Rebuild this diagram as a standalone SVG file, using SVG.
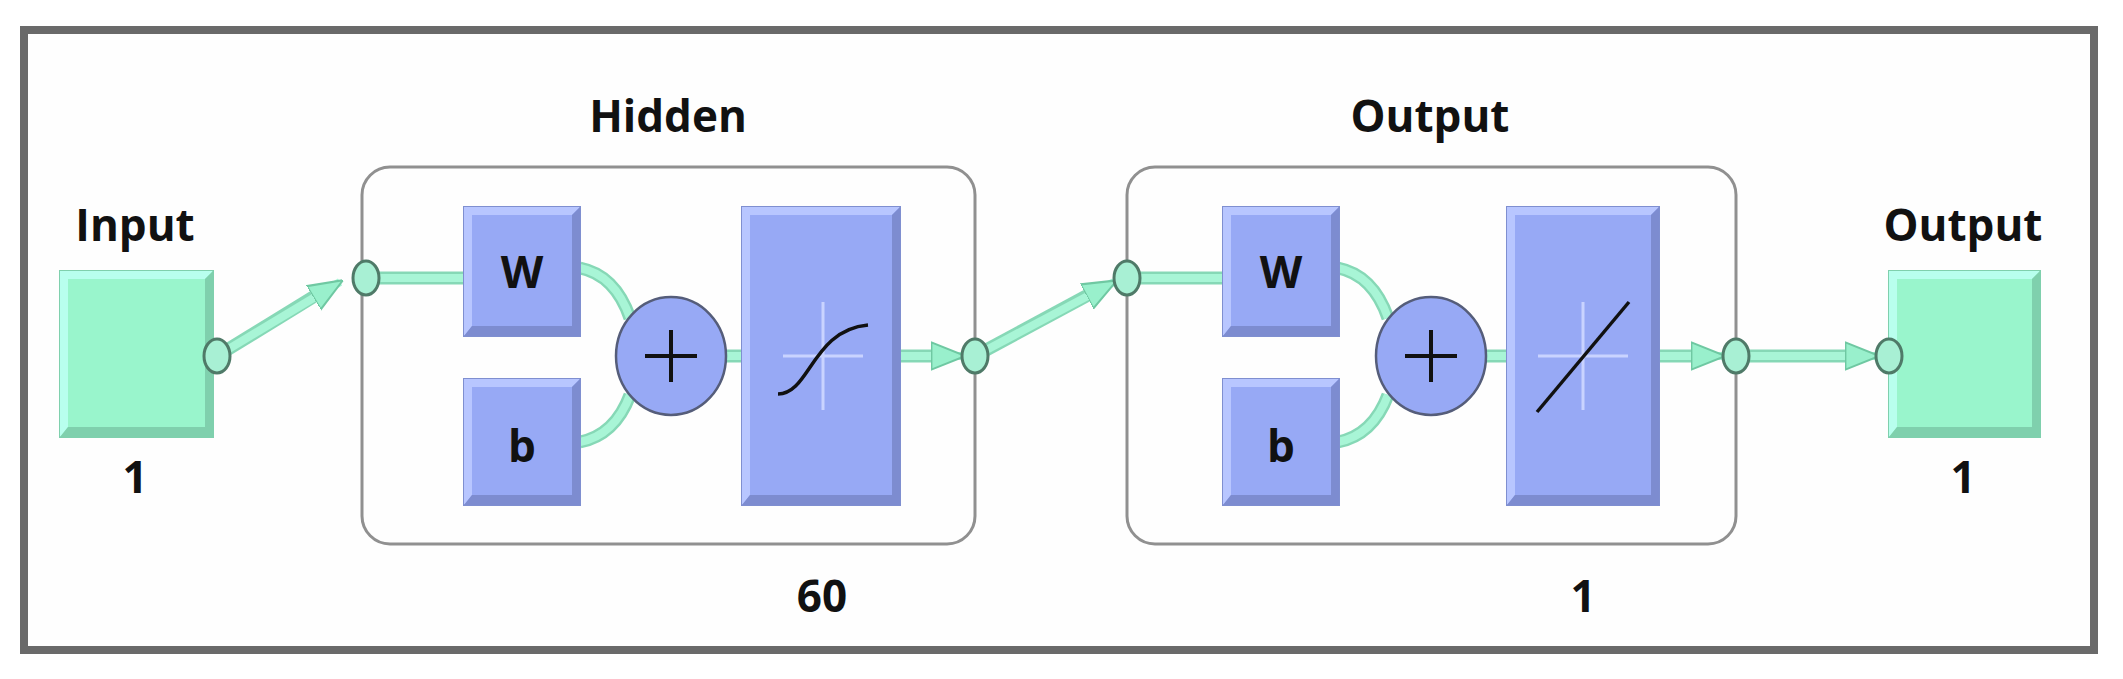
<svg xmlns="http://www.w3.org/2000/svg" width="2123" height="679" viewBox="0 0 2123 679">
<style>
text{font-family:"Open Sans","Liberation Sans",sans-serif;font-weight:bold;font-size:44px;fill:#111;text-anchor:middle}
.blue{fill:#97a9f5;stroke:#7f8fd0;stroke-width:2}
.green{fill:#99f5cc;stroke:#7fd0ad;stroke-width:2}
.hl{fill:#b8c6ff}.sh{fill:#7d8cd0}
.hlg{fill:#b8ffee}.shg{fill:#7fd0ad}
.wire{fill:none;stroke:#86d8b6;stroke-width:13;stroke-linecap:butt}
.wirei{fill:none;stroke:#a8f5d6;stroke-width:8;stroke-linecap:butt}
.dot{fill:#a8f0d4;stroke:#4f7a68;stroke-width:3}
.frame{fill:none;stroke:#909090;stroke-width:3}
</style>
<defs>
<marker id="ah" viewBox="0 0 10 10" refX="9" refY="5" markerWidth="34" markerHeight="34" markerUnits="userSpaceOnUse" orient="auto"><path d="M0,1L10,5L0,9Z" fill="#99f0cc" stroke="#6fc8a2" stroke-width="0.6"/></marker>
</defs>
<rect width="2123" height="679" fill="#fff"/>
<rect x="24" y="30" width="2070" height="620" fill="#fefefe" stroke="#6a6a6a" stroke-width="8"/>
<g id="connectors">
<path class="wire" d="M217,356 L318,294"/><path class="wirei" d="M217,356 L340,282" marker-end="url(#ah)"/>
<path class="wire" d="M366,278 L464,278"/><path class="wirei" d="M366,278 L464,278"/>
<path class="wire" d="M580,268 Q615,275 630,318"/><path class="wirei" d="M580,268 Q615,275 630,318"/>
<path class="wire" d="M580,442 Q615,435 630,395"/><path class="wirei" d="M580,442 Q615,435 630,395"/>
<path class="wire" d="M716,356 L742,356"/><path class="wirei" d="M716,356 L742,356"/>
<path class="wire" d="M900,356 L935,356"/><path class="wirei" d="M900,356 L962,356" marker-end="url(#ah)"/>
<path class="wire" d="M975,356 L1090,294"/><path class="wirei" d="M975,356 L1114,282" marker-end="url(#ah)"/>
<path class="wire" d="M1127,278 L1223,278"/><path class="wirei" d="M1127,278 L1223,278"/>
<path class="wire" d="M1338,268 Q1373,275 1388,318"/><path class="wirei" d="M1338,268 Q1373,275 1388,318"/>
<path class="wire" d="M1338,442 Q1373,435 1388,395"/><path class="wirei" d="M1338,442 Q1373,435 1388,395"/>
<path class="wire" d="M1480,356 L1507,356"/><path class="wirei" d="M1480,356 L1507,356"/>
<path class="wire" d="M1659,356 L1695,356"/><path class="wirei" d="M1659,356 L1722,356" marker-end="url(#ah)"/>
<path class="wire" d="M1736,356 L1850,356"/><path class="wirei" d="M1736,356 L1876,356" marker-end="url(#ah)"/>
</g>
<g id="input">
<text x="135" y="241">Input</text>
<rect class="green" x="60" y="271" width="153" height="166"/>
<polygon class="hlg" points="60,271 213,271 205,279 68,279 68,427 60,437"/>
<polygon class="shg" points="60,437 213,437 213,271 205,279 205,427 68,427"/>
<text x="135" y="493">1</text>
<ellipse class="dot" cx="217" cy="356" rx="13" ry="17"/>
</g>
<g id="hidden">
<text x="668" y="132">Hidden</text>
<rect class="frame" x="362" y="167" width="613" height="377" rx="28"/>
<ellipse class="dot" cx="366" cy="278" rx="13" ry="17"/>
<g id="hidden-w"><rect class="blue" x="464" y="207" width="116" height="129"/><polygon class="hl" points="464,207 580,207 572,215 472,215 472,326 464,336"/><polygon class="sh" points="464,336 580,336 580,207 572,215 572,326 472,326"/><text x="522" y="288">W</text></g>
<g id="hidden-b"><rect class="blue" x="464" y="379" width="116" height="126"/><polygon class="hl" points="464,379 580,379 572,387 472,387 472,495 464,505"/><polygon class="sh" points="464,505 580,505 580,379 572,387 572,495 472,495"/><text x="522" y="462">b</text></g>
<g id="hidden-sum"><ellipse cx="671" cy="356" rx="55" ry="59" fill="#97a9f5" stroke="#555d7a" stroke-width="2.5"/><path d="M645,356H697M671,330V382" stroke="#111" stroke-width="4"/></g>
<g id="hidden-tansig"><rect class="blue" x="742" y="207" width="158" height="298"/><polygon class="hl" points="742,207 900,207 892,215 750,215 750,495 742,505"/><polygon class="sh" points="742,505 900,505 900,207 892,215 892,495 750,495"/><path d="M783,356H863M823,302V410" stroke="#c9d3ff" stroke-width="3"/><path d="M778,394 C810,394 812,330 868,325" fill="none" stroke="#111" stroke-width="3.5"/></g>
<ellipse class="dot" cx="975" cy="356" rx="13" ry="17"/>
<text x="822" y="612">60</text>
</g>
<g id="output-layer">
<text x="1430" y="132">Output</text>
<rect class="frame" x="1127" y="167" width="609" height="377" rx="28"/>
<ellipse class="dot" cx="1127" cy="278" rx="13" ry="17"/>
<g id="out-w"><rect class="blue" x="1223" y="207" width="116" height="129"/><polygon class="hl" points="1223,207 1339,207 1331,215 1231,215 1231,326 1223,336"/><polygon class="sh" points="1223,336 1339,336 1339,207 1331,215 1331,326 1231,326"/><text x="1281" y="288">W</text></g>
<g id="out-b"><rect class="blue" x="1223" y="379" width="116" height="126"/><polygon class="hl" points="1223,379 1339,379 1331,387 1231,387 1231,495 1223,505"/><polygon class="sh" points="1223,505 1339,505 1339,379 1331,387 1331,495 1231,495"/><text x="1281" y="462">b</text></g>
<g id="out-sum"><ellipse cx="1431" cy="356" rx="55" ry="59" fill="#97a9f5" stroke="#555d7a" stroke-width="2.5"/><path d="M1405,356H1457M1431,330V382" stroke="#111" stroke-width="4"/></g>
<g id="out-purelin"><rect class="blue" x="1507" y="207" width="152" height="298"/><polygon class="hl" points="1507,207 1659,207 1651,215 1515,215 1515,495 1507,505"/><polygon class="sh" points="1507,505 1659,505 1659,207 1651,215 1651,495 1515,495"/><path d="M1538,356H1628M1583,302V410" stroke="#c9d3ff" stroke-width="3"/><path d="M1537,412 L1629,302" stroke="#111" stroke-width="3.5"/></g>
<ellipse class="dot" cx="1736" cy="356" rx="13" ry="17"/>
<text x="1583" y="612">1</text>
</g>
<g id="output">
<text x="1963" y="241">Output</text>
<rect class="green" x="1889" y="271" width="151" height="166"/>
<polygon class="hlg" points="1889,271 2040,271 2032,279 1897,279 1897,427 1889,437"/>
<polygon class="shg" points="1889,437 2040,437 2040,271 2032,279 2032,427 1897,427"/>
<ellipse class="dot" cx="1889" cy="356" rx="13" ry="17"/>
<text x="1963" y="493">1</text>
</g>
</svg>
